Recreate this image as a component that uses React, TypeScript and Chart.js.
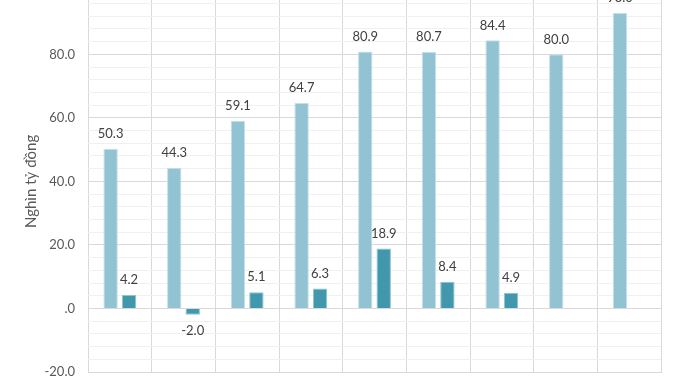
import React, { useEffect, useRef } from "react";
import { Chart, registerables } from "chart.js";

Chart.register(...registerables);

const categories = ["1", "2", "3", "4", "5", "6", "7", "8", "9"];
const seriesA = [50.3, 44.3, 59.1, 64.7, 80.9, 80.7, 84.4, 80.0, 93.0];
const seriesB: (number | null)[] = [4.2, -2.0, 5.1, 6.3, 18.9, 8.4, 4.9, null, null];
const yMin = -20;
const yMax = 100;
const yStep = 4;
const yMajor = 20;
const yTitle = "Nghìn tỷ đồng";

const FONT = "Lato, 'Open Sans', 'Noto Sans', sans-serif";

const fmt = (v: number) => {
  const s = Math.abs(v).toFixed(1);
  const t = s.startsWith("0") ? s.slice(1) : s;
  return (v < 0 ? "-" : "") + t;
};

const labelPlugin = {
  id: "valueLabels",
  afterDatasetsDraw(chart: any) {
    const { ctx } = chart;
    ctx.save();
    ctx.font = `13px ${FONT}`;
    ctx.fillStyle = "#404040";
    ctx.textAlign = "center";
    ctx.textBaseline = "middle";
    chart.data.datasets.forEach((ds: any, i: number) => {
      const meta = chart.getDatasetMeta(i);
      meta.data.forEach((bar: any, j: number) => {
        const v = ds.data[j];
        if (v === null || v === undefined) return;
        const y = v >= 0 ? bar.y - 15 : bar.y + 16;
        ctx.fillText(fmt(v), bar.x, y);
      });
    });
    ctx.restore();
  },
};

export default function App() {
  const ref = useRef<HTMLCanvasElement>(null);
  useEffect(() => {
    if (!ref.current) return;
    const chart = new Chart(ref.current, {
      type: "bar",
      data: {
        labels: categories,
        datasets: [
          {
            label: "A",
            data: seriesA,
            backgroundColor: "#92c3d3",
            borderColor: "#c4e0ea",
            borderWidth: 1,
            categoryPercentage: 0.58,
            barPercentage: 0.78,
          },
          {
            label: "B",
            data: seriesB,
            backgroundColor: "#4198ad",
            borderColor: "#8cc4d2",
            borderWidth: 1,
            categoryPercentage: 0.58,
            barPercentage: 0.78,
          },
        ],
      },
      options: {
        animation: false,
        responsive: false,
        maintainAspectRatio: false,
        layout: { padding: { top: 18.7, right: 17, bottom: 28, left: 0 } },
        plugins: { legend: { display: false }, tooltip: { enabled: false } },
        scales: {
          x: {
            ticks: { display: false },
            grid: { color: "#d9d9d9", drawTicks: false, offset: true },
            border: { color: "#d9d9d9" },
            afterFit: (s: any) => {
              s.height = 0;
            },
          },
          y: {
            min: yMin,
            max: yMax,
            ticks: {
              stepSize: yStep,
              autoSkip: false,
              padding: 13,
              color: "#595959",
              font: { family: FONT, size: 13 },
              callback: (v: any) => (Math.round(v) % yMajor === 0 ? fmt(Number(v)) : ""),
            },
            grid: {
              drawTicks: false,
              color: (c: any) =>
                Math.round(c.tick.value) % yMajor === 0 ? "#d9d9d9" : "#f0f0f0",
            },
            border: { display: false },
            title: {
              display: true,
              text: yTitle,
              color: "#595959",
              font: { family: FONT, size: 15 },
              padding: { top: 22, bottom: 0 },
            },
            afterFit: (s: any) => {
              s.width = 88;
            },
          },
        },
      },
      plugins: [labelPlugin],
    });
    return () => chart.destroy();
  }, []);
  return (
    <div
      style={{
        position: "fixed",
        left: 0,
        top: 0,
        width: 678,
        height: 381,
        overflow: "hidden",
        background: "#fff",
      }}
    >
      <canvas
        ref={ref}
        width={678}
        height={430}
        style={{ position: "absolute", left: 0, top: -30, width: 678, height: 430 }}
      />
    </div>
  );
}
